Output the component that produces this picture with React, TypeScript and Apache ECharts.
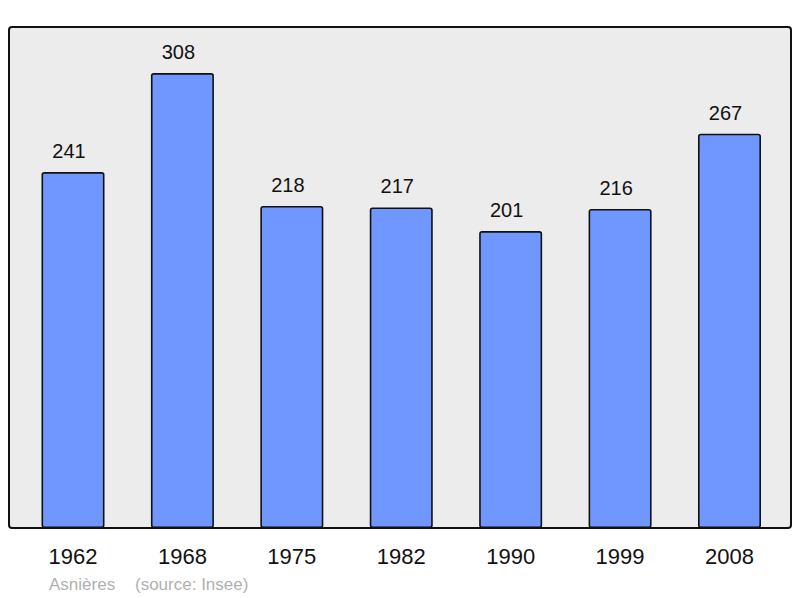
import React, { useEffect, useRef } from "react";
import * as echarts from "echarts";

const years = ["1962", "1968", "1975", "1982", "1990", "1999", "2008"];
const population = [241, 308, 218, 217, 201, 216, 267];
const placeName = "Asnières";
const sourceText = "(source: Insee)";

export default function App() {
  const ref = useRef<HTMLDivElement>(null);
  useEffect(() => {
    if (!ref.current) return;
    const chart = echarts.init(ref.current, undefined, { renderer: "svg" });
    const font = "'Liberation Sans', Arial, sans-serif";
    chart.setOption({
      animation: false,
      backgroundColor: "#ffffff",
      graphic: [
        {
          type: "rect",
          shape: { x: 9, y: 27, width: 782, height: 501, r: 3 },
          style: { fill: "#ececec", stroke: "#111111", lineWidth: 2 },
          z: -10,
          silent: true,
        },
        {
          type: "text",
          x: 49,
          y: 584,
          style: {
            text: placeName,
            font: `17px ${font}`,
            fill: "#b0b0b0",
            verticalAlign: "middle",
          },
        },
        {
          type: "text",
          x: 135,
          y: 584,
          style: {
            text: sourceText,
            font: `17px ${font}`,
            fill: "#b0b0b0",
            verticalAlign: "middle",
          },
        },
      ],
      grid: { left: 18.3, right: 15.8, top: 27, bottom: 70, containLabel: false },
      xAxis: {
        type: "category",
        data: years,
        axisLine: { show: false },
        axisTick: { show: false },
        axisLabel: {
          color: "#111111",
          fontSize: 22,
          fontFamily: font,
          margin: 17,
        },
      },
      yAxis: {
        type: "value",
        min: 0,
        max: 339.2,
        show: false,
        splitLine: { show: false },
      },
      series: [
        {
          type: "bar",
          data: population,
          barWidth: 63,
          itemStyle: {
            color: "#7097ff",
            borderColor: "#111111",
            borderWidth: 1.6,
            borderRadius: 2,
          },
          label: {
            show: true,
            position: "top",
            distance: 11,
            offset: [-4, 0],
            color: "#111111",
            fontSize: 20,
            fontFamily: font,
          },
        },
      ],
    });
    return () => chart.dispose();
  }, []);
  return <div ref={ref} style={{ width: 800, height: 598, position: "absolute", left: 0, top: 0 }} />;
}
